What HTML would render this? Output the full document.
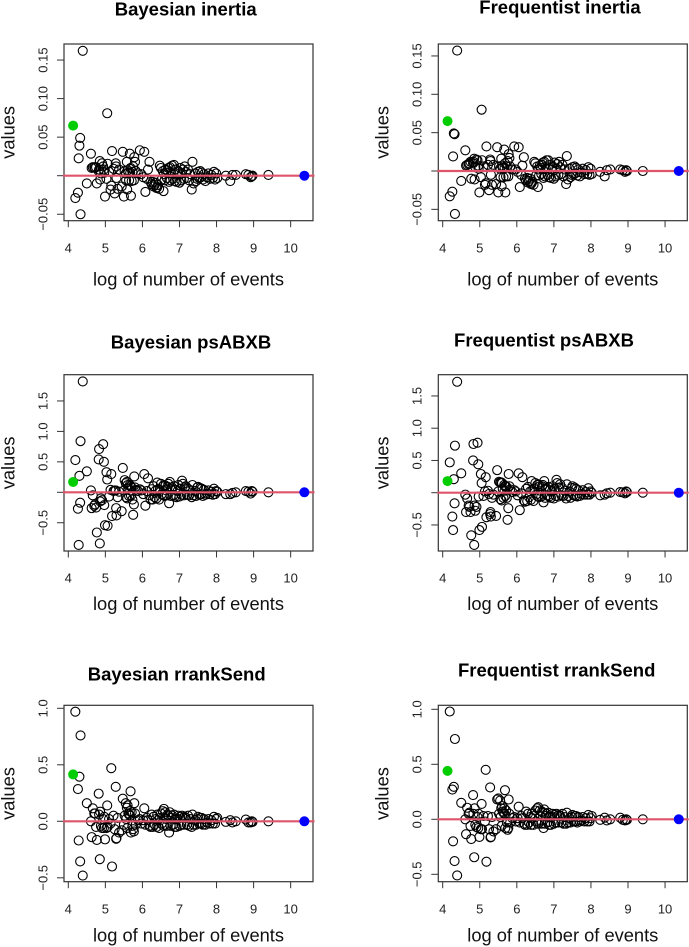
<!DOCTYPE html>
<html lang="en">
<head>
<meta charset="utf-8">
<title>Bayesian and Frequentist funnel plots</title>
<style>
html,body{margin:0;padding:0;background:#fff;}
svg{display:block;font-family:"Liberation Sans",Arial,sans-serif;}
</style>
</head>
<body>
<svg id="chart" xmlns="http://www.w3.org/2000/svg" width="689" height="947" viewBox="0 0 689 947"></svg>
<script>
const logEvents = [
  4.19,4.26,4.28,4.30,4.32,4.33,4.39,4.50,4.61,4.66,4.70,4.75,
  4.63,4.72,4.77,4.83,4.82,4.85,4.86,4.88,4.91,4.94,4.96,4.97,4.99,5.03,5.05,5.06,5.10,5.14,5.16,5.18,5.22,5.25,5.28,5.29,5.30,5.33,5.37,5.44,5.47,
  5.50,5.52,5.55,5.56,5.58,5.59,5.60,5.62,5.64,5.66,5.67,5.68,5.69,5.71,5.73,5.75,5.77,5.78,5.80,5.82,5.88,5.93,5.97,6.02,6.05,6.08,6.12,6.15,6.19,6.22,
  6.25,6.28,6.30,6.33,6.36,6.38,6.40,6.42,6.45,6.47,6.50,6.52,6.55,6.57,6.58,6.60,6.62,6.64,6.66,6.68,6.70,6.72,6.74,6.76,6.78,6.80,6.83,6.85,6.87,6.89,6.92,6.95,6.97,7.00,7.02,7.05,7.07,7.09,7.12,7.14,7.17,7.20,7.23,7.26,7.29,7.33,7.35,7.38,7.42,7.45,7.48,7.50,7.53,7.56,7.58,7.60,7.63,7.66,7.70,7.74,7.78,7.82,7.86,7.90,7.93,7.96,7.99,
  8.02,8.25,8.37,8.43,8.52,8.79,8.86,8.92,8.95,8.97,9.40
];
const bayesianInertia = [
  -.029,-.022,.0225,.039,.049,-.05,.162,-.01,.0285,.011,.011,.011,
  .010,.010,-.010,.008,.006,.019,-.005,.003,.016,.012,.008,.004,-.027,-.004,.081,.0155,.005,-.018,-.013,.032,.009,-.023,.016,.012,-.003,-.017,.008,-.014,.031,
  -.027,.006,.003,-.006,.018,-.018,.007,.004,-.006,.0285,.004,.010,-.026,-.007,.005,.012,-.006,.024,.018,.006,.003,.033,.002,-.002,.031,-.021,-.004,.008,.018,-.008,
  -.011,-.008,-.014,-.012,-.009,-.016,-.015,-.012,-.017,.013,.010,-.005,.006,-.020,.002,-.006,.008,.004,-.003,.007,.010,-.008,.011,-.006,.003,.013,-.004,.014,-.007,.008,-.008,.002,.006,-.009,.010,-.006,.003,.008,-.004,.012,.005,-.003,.008,-.006,.002,-.018,.018,-.010,.003,-.007,-.004,.005,-.003,.006,-.002,.004,-.005,.002,-.007,-.002,.003,-.004,.001,-.003,.005,-.005,.003,
  -.003,0,-.007,.001,.001,.002,.001,-.002,-.001,0,.001
];
const frequentistInertia = [
  -.033,-.027,.019,.049,.048,-.056,.157,-.013,.027,.008,.009,.012,
  .007,.010,-.010,.012,.010,.016,-.011,.005,.015,.014,.007,.003,-.028,-.008,.080,.014,.006,-.018,-.016,.032,.008,-.025,.015,.013,-.005,-.018,.008,-.017,.031,
  -.028,.006,.003,-.008,.016,-.02,.007,.004,-.008,.028,.004,.010,-.028,-.007,.006,.013,-.007,.022,.017,.006,.002,.032,.002,-.001,.031,-.021,-.005,.007,.018,-.010,
  -.012,-.009,-.015,-.013,-.010,-.017,-.016,-.014,-.018,.012,.010,-.006,.006,-.021,.002,-.006,.007,.004,-.004,.008,.011,-.009,.012,-.007,.003,.014,-.005,.014,-.008,.008,-.009,.002,.006,-.010,.011,-.007,.003,.009,-.005,.012,.005,-.004,.008,-.007,.002,-.017,.0195,-.011,.003,-.008,-.005,.005,-.004,.006,-.003,.004,-.006,.002,-.007,-.002,.003,-.004,.001,-.004,.005,-.005,.003,
  -.004,-.001,-.007,.001,.002,.002,.001,-.001,.001,0,0
];
const bayesianPsABXB = [
  .53,-.27,-.865,.27,-.17,.84,1.82,.345,.03,-.05,-.22,-.25,
  -.26,-.20,-.66,.71,.54,-.84,-.15,-.10,-.13,.79,.50,-.21,-.54,.33,.21,-.55,-.07,.04,.30,-.39,.02,.03,.03,-.26,-.38,-.08,.01,-.31,.40,
  .03,.20,.15,-.08,.17,-.10,.12,.06,-.06,.12,.03,.10,-.05,.08,-.12,-.37,-.20,.26,.08,.04,.02,.05,.03,-.03,.30,-.22,.02,.23,-.05,-.12,
  .05,-.12,.10,-.08,.03,-.10,.16,.05,-.12,.04,.14,-.03,.10,-.05,.12,-.06,.11,.03,-.05,.09,.14,-.18,.17,-.06,.05,.08,-.05,.10,-.07,.04,-.08,.02,.12,-.07,.06,-.04,.19,.14,-.05,.08,.10,-.04,.06,-.05,.03,-.08,.12,-.05,.02,-.06,.08,.09,-.04,.07,-.03,.06,-.06,.04,-.04,-.02,.03,-.03,.01,-.04,.06,-.03,.02,
  .01,-.03,-.03,-.01,0,.02,.01,-.02,.02,.01,0
];
const frequentistPsABXB = [
  .47,-.37,-.58,.21,-.165,.73,1.72,.3,-.03,-.09,-.2,-.3,
  -.30,-.22,-.66,.755,.50,-.81,-.20,-.28,-.22,.775,.44,-.06,-.58,.29,.15,-.53,-.05,.02,.24,-.38,.03,-.02,-.33,-.30,-.37,-.08,-.03,-.36,.35,
  .02,.17,.16,-.10,.16,-.12,.15,.06,-.08,.12,.03,.10,-.05,.10,-.08,-.42,-.24,.29,.10,.05,.01,.04,.02,-.04,.30,-.27,-.01,.24,-.12,-.14,
  .06,-.13,.09,-.07,.02,-.11,.18,.04,-.13,.06,.15,-.03,.12,-.06,.13,-.07,.10,.03,-.06,.10,.12,-.15,.18,-.08,.05,.07,-.04,.09,-.06,.04,-.08,.02,.10,-.09,.06,-.05,.20,.15,-.06,.08,.13,-.04,.07,-.05,.03,-.09,.13,-.05,.02,-.08,.07,.10,-.04,.08,-.05,.06,-.06,.04,-.05,-.02,.04,-.03,.01,-.03,.07,-.03,.02,
  0,-.04,-.03,-.01,0,.01,.005,-.01,.02,.01,0
];
const bayesianRrankSend = [
  .97,.285,-.17,.395,-.355,.76,-.48,.16,0,.115,.07,-.05,
  -.14,.07,-.165,.06,.245,-.335,.085,-.04,-.06,.02,-.06,.04,-.16,-.06,.14,-.05,.02,-.02,.47,-.40,.05,-.07,.305,-.155,-.15,.03,-.10,-.08,.20,
  -.03,.05,.16,.02,.12,-.06,.14,.07,.06,.09,.05,.265,-.10,.08,-.04,-.07,-.09,.16,.07,-.03,.01,.02,-.02,.01,.115,-.03,.03,.01,-.04,-.05,
  .06,-.05,.04,-.03,.02,-.05,.06,.01,-.06,.03,.07,-.02,.09,-.04,.11,-.03,.08,.02,-.04,.06,.05,-.10,.08,-.04,.03,.05,-.03,.06,-.05,.02,-.05,.02,.05,-.04,.04,-.03,.05,.03,-.03,.04,.03,-.03,.05,-.04,.02,-.05,.06,-.03,.01,-.03,.02,.04,-.02,.03,-.02,.03,-.03,.02,-.03,-.01,.02,-.02,.01,-.02,.04,-.02,.02,
  .03,-.005,.01,-.01,0,.015,-.01,-.01,0,-.005,0
];
const frequentistRrankSend = [
  .98,.27,-.2,.295,-.38,.73,-.51,.15,0,.105,.05,-.06,
  -.135,.06,-.18,.05,.22,-.345,.10,-.05,-.07,.02,-.08,.05,-.16,-.09,.14,-.09,.03,-.02,.45,-.385,.03,-.09,.29,-.165,-.16,.02,-.11,-.09,.18,
  .19,.05,.17,.02,.10,-.06,.12,.07,.06,.10,.05,.265,-.08,.08,-.03,-.095,-.08,.18,.05,-.03,.01,.02,-.02,.01,.115,-.03,.03,.01,-.04,-.05,
  .07,-.05,.05,-.03,.02,-.05,.05,.01,-.05,.03,.08,-.02,.10,-.04,.11,-.03,.08,.03,-.04,.07,.06,-.08,.09,-.04,.03,.05,-.03,.06,-.05,.02,-.05,.02,.05,-.04,.04,-.03,.05,.03,-.03,.04,.03,-.03,.05,-.04,.02,-.04,.06,-.03,.01,-.03,.02,.04,-.02,.03,-.02,.03,-.03,.02,-.02,-.01,.02,-.02,.01,-.02,.04,-.02,.01,
  .03,-.005,.015,-.01,0,.015,-.005,-.01,0,-.005,0
];
const greenLogEvents = 4.13;
const greenValues = [.065,.065,.17,.18,.415,.44];
const blueLogEvents = 10.37;
const blueValues = [0,0,0,0,0,0];
const xTicks = [4,5,6,7,8,9,10];
const inertiaTicks = [-.05,0,.05,.1,.15];
const inertiaLabels = ['\u22120.05','','0.05','0.10','0.15'];
const psTicks = [-.5,0,.5,1,1.5];
const psLabels = ['\u22120.5','','0.5','1.0','1.5'];
const rrankTicks = [-.5,0,.5,1];
const rrankLabels = ['\u22120.5','0.0','0.5','1.0'];

const NS = 'http://www.w3.org/2000/svg';
const root = document.getElementById('chart');

function make(parent, tag, attrs, text) {
  const el = document.createElementNS(NS, tag);
  for (const k in attrs) el.setAttribute(k, attrs[k]);
  if (text !== undefined) el.textContent = text;
  parent.appendChild(el);
  return el;
}

function drawPanel(idx, slug, title, titleX, titleY, left, top, bottom, xZero, yZero, yScalePx, values, ticks, labels, tickBase, xTitleBase) {
  const right = left + 249;
  const xOf = v => xZero + (v - 4) * 37.06;
  const yOf = v => yZero - v * yScalePx;
  const g = make(root, 'g', {});
  
  

  const titleEl = make(g, 'text', {x: titleX, y: titleY, 'text-anchor': 'middle', 'font-size': 18.5, 'font-weight': 'bold', fill: '#000'}, title);
  
  

  const points = make(g, 'g', {fill: 'none', stroke: '#000', 'stroke-width': 1.1});
  
  
  values.forEach((v, i) => {
    const c = make(points, 'circle', {cx: xOf(logEvents[i]).toFixed(2), cy: yOf(v).toFixed(2), r: 4.5});
    
    
  });

  const box = make(g, 'rect', {x: left, y: top, width: 249, height: bottom - top, fill: 'none', stroke: '#333', 'stroke-width': 1.2});
  
  

  const xAxis = make(g, 'g', {stroke: '#333', 'stroke-width': 1});
  
  
  xTicks.forEach(t => {
    const tick = make(xAxis, 'line', {x1: xOf(t), x2: xOf(t), y1: bottom, y2: bottom + 6.5});
    
    
    const lab = make(g, 'text', {x: xOf(t), y: tickBase, 'text-anchor': 'middle', 'font-size': 13, fill: '#222'}, String(t));
    
    
  });

  const yAxis = make(g, 'g', {stroke: '#333', 'stroke-width': 1});
  
  
  ticks.forEach((t, i) => {
    const y = yOf(t);
    const tick = make(yAxis, 'line', {x1: left - 7, x2: left, y1: y, y2: y});
    
    
    if (labels[i]) {
      const bx = left - 16.7;
      const lab = make(g, 'text', {x: bx, y: y, transform: 'rotate(-90 ' + bx + ' ' + y + ')', 'text-anchor': 'middle', 'font-size': 13, fill: '#222'}, labels[i]);
      
      
    }
  });

  const xTitle = make(g, 'text', {x: left + 124.5, y: xTitleBase, 'text-anchor': 'middle', 'font-size': 18.3, fill: '#111'}, 'log of number of events');
  
  

  const ty = (top + bottom) / 2;
  const tx = left - 49.7;
  const yTitle = make(g, 'text', {x: tx, y: ty, transform: 'rotate(-90 ' + tx + ' ' + ty + ')', 'text-anchor': 'middle', 'font-size': 18.3, fill: '#111'}, 'values');
  
  

  const refLine = make(g, 'line', {x1: left - 1, x2: right + 1.5, y1: yOf(0), y2: yOf(0), stroke: '#DF536B', 'stroke-width': 2.2});
  
  

  const green = make(g, 'circle', {cx: xOf(greenLogEvents), cy: yOf(greenValues[idx]), r: 5, fill: '#00CD00'});
  
  

  const blue = make(g, 'circle', {cx: xOf(blueLogEvents), cy: yOf(blueValues[idx]), r: 5, fill: '#0000FF'});
  
  
}

drawPanel(0, 'bayesian-inertia', 'Bayesian inertia', 185.7, 15.3, 64, 44, 220.7, 68.3, 175.7, 771, bayesianInertia, inertiaTicks, inertiaLabels, 252.7, 285.7);
drawPanel(1, 'frequentist-inertia', 'Frequentist inertia', 560, 13.3, 438.3, 44, 220.7, 442.7, 171, 767, frequentistInertia, inertiaTicks, inertiaLabels, 252.7, 285.7);
drawPanel(2, 'bayesian-psabxb', 'Bayesian psABXB', 191, 348.3, 64, 374.7, 551, 68.3, 492.3, 60.9, bayesianPsABXB, psTicks, psLabels, 582.3, 610);
drawPanel(3, 'frequentist-psabxb', 'Frequentist psABXB', 544, 346.7, 438.3, 374.7, 551, 442.7, 492.7, 64.5, frequentistPsABXB, psTicks, psLabels, 582.3, 610);
drawPanel(4, 'bayesian-rranksend', 'Bayesian rrankSend', 176.7, 680.7, 64, 705.3, 881.7, 68.3, 821.3, 113, bayesianRrankSend, rrankTicks, rrankLabels, 913.3, 941.7);
drawPanel(5, 'frequentist-rranksend', 'Frequentist rrankSend', 556.7, 676.7, 438.3, 705.3, 881.7, 442.7, 819.3, 110, frequentistRrankSend, rrankTicks, rrankLabels, 913.3, 941.7);
</script>
</body>
</html>
